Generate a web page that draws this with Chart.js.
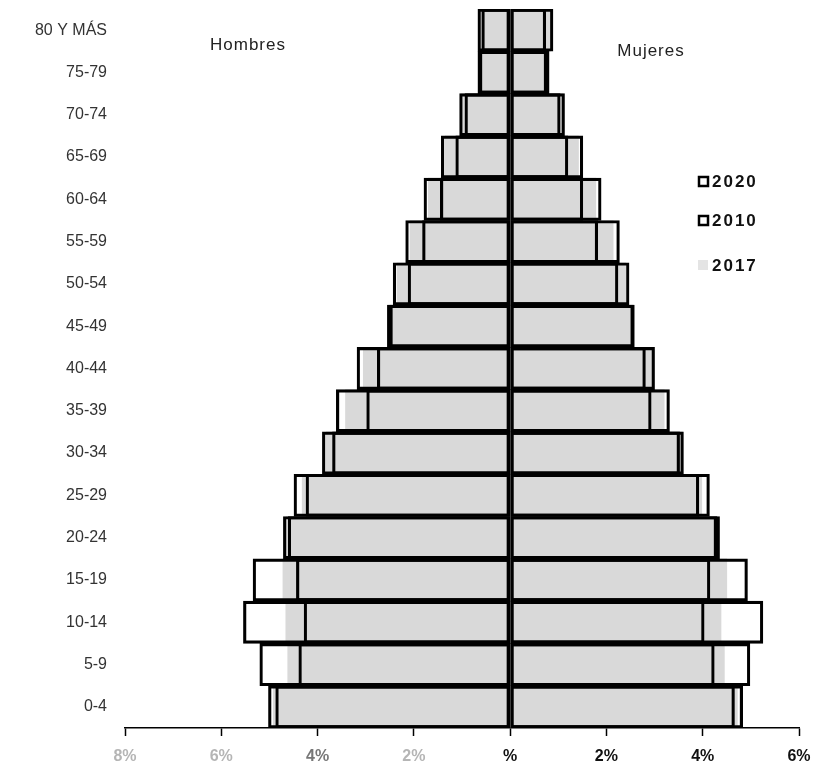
<!DOCTYPE html>
<html>
<head>
<meta charset="utf-8">
<script src="https://cdn.jsdelivr.net/npm/chart.js@4.4.1/dist/chart.umd.min.js"></script>
<style>
  html, body { margin: 0; padding: 0; background: #fff; }
  #wrap { width: 813px; height: 769px; }
</style>
</head>
<body>
<div id="wrap"><canvas id="myChart"></canvas></div>
<script>
// age groups, top of the pyramid first
let ageGroups = ["80 Y MÁS", "75-79", "70-74", "65-69", "60-64", "55-59", "50-54", "45-49",
  "40-44", "35-39", "30-34", "25-29", "20-24", "15-19", "10-14", "5-9", "0-4"];

// percent of total population
let men2020 = [0.67, 0.67, 1.05, 1.43, 1.79, 2.17, 2.43, 2.55, 3.18, 3.61, 3.90, 4.24, 4.61, 4.44, 4.28, 4.39, 4.87];
let men2010 = [0.59, 0.64, 0.94, 1.13, 1.45, 1.82, 2.12, 2.50, 2.76, 2.98, 3.69, 4.49, 4.71, 5.34, 5.54, 5.20, 5.02];
let men2017 = [0.64, 0.66, 1.02, 1.35, 1.70, 2.08, 2.35, 2.54, 3.05, 3.42, 3.82, 4.32, 4.65, 4.72, 4.66, 4.62, 4.92];

let women2020 = [0.89, 0.81, 1.13, 1.51, 1.89, 2.27, 2.47, 2.58, 3.00, 3.31, 3.60, 3.92, 4.29, 4.15, 4.03, 4.24, 4.66];
let women2010 = [0.74, 0.76, 1.04, 1.20, 1.51, 1.82, 2.24, 2.56, 2.81, 2.93, 3.52, 4.14, 4.35, 4.93, 5.25, 4.98, 4.83];
let women2017 = [0.84, 0.79, 1.10, 1.42, 1.78, 2.14, 2.40, 2.57, 2.95, 3.20, 3.58, 3.98, 4.31, 4.50, 4.38, 4.45, 4.72];

let xTicks = [-8, -6, -4, -2, 0, 2, 4, 6];
let legendYears = ["2020", "2010", "2017"];

let grey = "#d9d9d9";

function left(arr) {
    return arr.map(v => -v);
}

function outline(label, values, order) {
    return {
        label: label,
        data: values,
        backgroundColor: "rgba(255,255,255,0)",
        borderColor: "#000",
        borderWidth: 2.5,
        borderSkipped: false,
        order: order
    };
}

function filled(label, values, order) {
    return {
        label: label,
        data: values,
        backgroundColor: grey,
        borderWidth: 0,
        order: order
    };
}

let data = {
    labels: ageGroups,
    datasets: [
        outline("2020", left(men2020), 0),
        outline("2020", women2020, 0),
        outline("2010", left(men2010), 1),
        outline("2010", women2010, 1),
        filled("2017", left(men2017), 2),
        filled("2017", women2017, 2)
    ]
};

// side titles and the legend box on the right
let textPlugin = {
    id: "sideText",
    afterDraw(chart) {
        let ctx = chart.ctx;
        ctx.save();
        ctx.fillStyle = "#222";
        ctx.textBaseline = "middle";
        ctx.textAlign = "center";
        ctx.letterSpacing = "1px";
        ctx.font = "17px 'Liberation Sans', Arial, sans-serif";
        ctx.fillText("Hombres", 248, 45);
        ctx.fillText("Mujeres", 651, 51);

        ctx.textAlign = "left";
        ctx.letterSpacing = "2px";
        ctx.font = "bold 17px 'Liberation Sans', Arial, sans-serif";
        let rows = [181, 220, 265];
        legendYears.forEach((year, i) => {
            let y = rows[i];
            if (year === "2017") {
                ctx.fillStyle = "#e4e4e4";
                ctx.fillRect(698, y - 5, 10, 10);
            } else {
                ctx.strokeStyle = "#000";
                ctx.lineWidth = 2.5;
                ctx.strokeRect(699, y - 4, 9, 9);
            }
            ctx.fillStyle = "#111";
            ctx.fillText(year, 712, y + 1);
        });
        ctx.restore();
    }
};

let options = {
    indexAxis: "y",
    responsive: true,
    maintainAspectRatio: false,
    animation: false,
    layout: {
        autoPadding: false,
        padding: { top: 9, right: 14, bottom: 0, left: 0 }
    },
    datasets: {
        bar: {
            grouped: false,
            categoryPercentage: 1,
            barPercentage: 1
        }
    },
    plugins: {
        legend: { display: false },
        tooltip: { enabled: false }
    },
    scales: {
        x: {
            min: -8,
            max: 6,
            afterBuildTicks: scale => {
                scale.ticks = xTicks.map(v => ({ value: v }));
            },
            afterFit: scale => {
                scale.height = 41;
                scale.paddingLeft = 0;
                scale.paddingRight = 0;
            },
            grid: {
                drawOnChartArea: false,
                drawTicks: true,
                tickLength: 8,
                tickColor: "#000",
                tickWidth: 1.5
            },
            border: { display: true, color: "#000", width: 1.5 },
            ticks: {
                padding: 11,
                font: { family: "'Liberation Sans', Arial, sans-serif", size: 16, weight: "bold" },
                color: ctx => {
                    let v = ctx.tick.value;
                    if (v === -4) return "#777";
                    return v < 0 ? "#b5b5b5" : "#111";
                },
                callback: v => v === 0 ? "%" : Math.abs(v) + "%"
            }
        },
        y: {
            afterFit: scale => {
                scale.width = 125;
                scale.paddingTop = 0;
                scale.paddingBottom = 0;
            },
            grid: { display: false },
            border: { display: false },
            ticks: {
                padding: 10,
                color: "#333",
                font: { family: "'Liberation Sans', Arial, sans-serif", size: 16 }
            }
        }
    }
};

let canvas = document.getElementById("myChart");
let myChart = new Chart(canvas.getContext("2d"), {
    type: "bar",
    data: data,
    options: options,
    plugins: [textPlugin]
});
</script>
</body>
</html>
